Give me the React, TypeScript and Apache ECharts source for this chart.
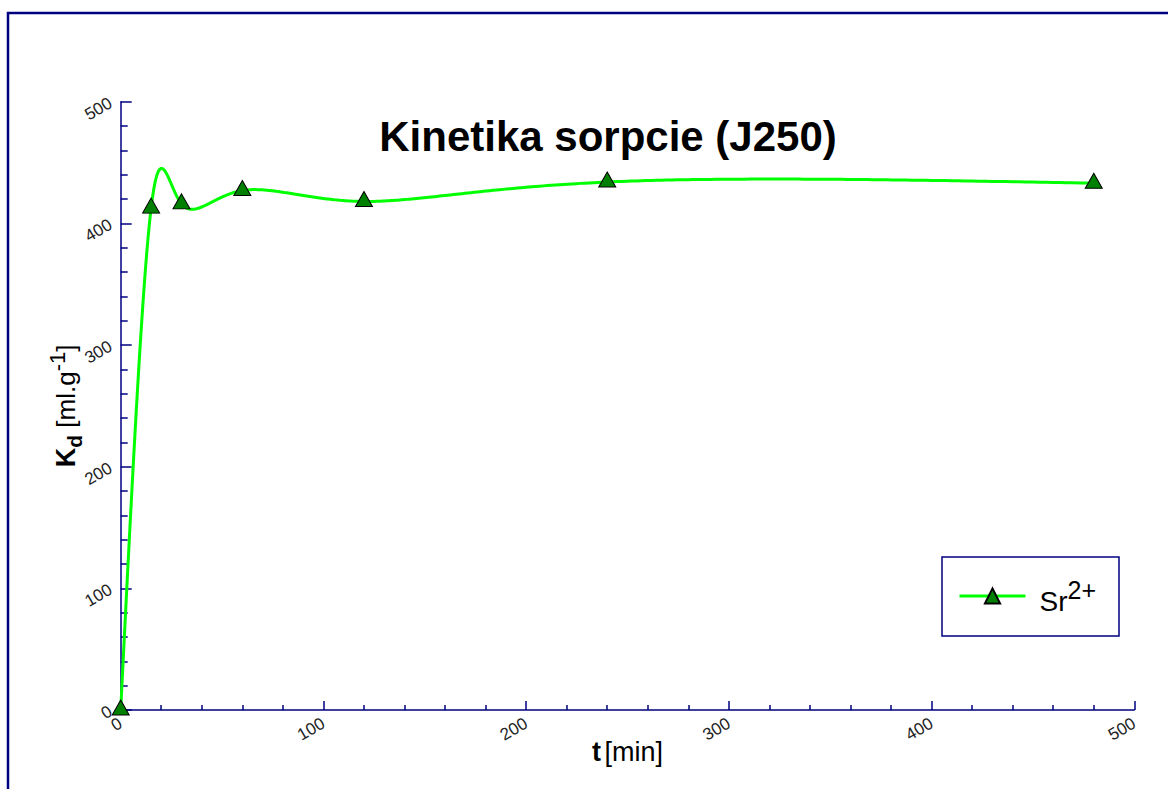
import React, { useEffect, useRef } from 'react';
import * as echarts from 'echarts';

const timeMin = [0, 15, 30, 60, 120, 240, 480];
const kdValues = [0, 412.5, 416, 427, 418, 434, 433];
const seriesName = 'Sr2+';
const titleText = 'Kinetika sorpcie (J250)';

const FONT = 'Arial, "Liberation Sans", Helvetica, sans-serif';
const NAVY = '#000080';

// natural cubic spline of ys over knots ts; returns evaluator
function naturalSpline(ts: number[], ys: number[]) {
  const n = ts.length;
  const h: number[] = [];
  for (let i = 0; i < n - 1; i++) h.push(ts[i + 1] - ts[i]);
  const a: number[] = new Array(n).fill(0);
  const b: number[] = new Array(n).fill(1);
  const c: number[] = new Array(n).fill(0);
  const d: number[] = new Array(n).fill(0);
  for (let i = 1; i < n - 1; i++) {
    a[i] = h[i - 1];
    b[i] = 2 * (h[i - 1] + h[i]);
    c[i] = h[i];
    d[i] = 6 * ((ys[i + 1] - ys[i]) / h[i] - (ys[i] - ys[i - 1]) / h[i - 1]);
  }
  const cp = new Array(n).fill(0);
  const dp = new Array(n).fill(0);
  cp[0] = c[0] / b[0];
  dp[0] = d[0] / b[0];
  for (let i = 1; i < n; i++) {
    const m = b[i] - a[i] * cp[i - 1];
    cp[i] = c[i] / m;
    dp[i] = (d[i] - a[i] * dp[i - 1]) / m;
  }
  const M = new Array(n).fill(0);
  M[n - 1] = dp[n - 1];
  for (let i = n - 2; i >= 0; i--) M[i] = dp[i] - cp[i] * M[i + 1];
  return (i: number, t: number) => {
    const hi = h[i];
    const t1 = ts[i + 1] - t;
    const t2 = t - ts[i];
    return (
      (M[i] * t1 * t1 * t1) / (6 * hi) +
      (M[i + 1] * t2 * t2 * t2) / (6 * hi) +
      (ys[i] / hi - (M[i] * hi) / 6) * t1 +
      (ys[i + 1] / hi - (M[i + 1] * hi) / 6) * t2
    );
  };
}

export default function App() {
  const ref = useRef<HTMLDivElement>(null);
  useEffect(() => {
    if (!ref.current) return;
    const chart = echarts.init(ref.current, null, { renderer: 'svg' });
    const option: any = {
      animation: false,
      backgroundColor: '#ffffff',
      textStyle: { fontFamily: FONT },
      grid: { left: 120.7, top: 101.7, right: 33.7, bottom: 79, containLabel: false },
      graphic: [
        {
          type: 'rect',
          shape: { x: 8, y: 13, width: 1300, height: 900 },
          style: { fill: 'none', stroke: NAVY, lineWidth: 2.5 },
          silent: true,
        },
        {
          type: 'text',
          x: 608,
          y: 136,
          style: {
            text: titleText,
            font: 'bold 42px ' + FONT,
            fill: '#000',
            textAlign: 'center',
            textVerticalAlign: 'middle',
          },
        },
        {
          type: 'rect',
          shape: { x: 942, y: 557, width: 177, height: 79 },
          style: { fill: 'none', stroke: NAVY, lineWidth: 1.5 },
          silent: true,
        },
      ],
      legend: {
        data: [{ name: seriesName }],
        left: 958,
        top: 577,
        itemWidth: 66,
        itemHeight: 19,
        padding: 0,
        formatter: () => '{a|Sr}{b|2+}',
        lineStyle: { color: '#00ff00', width: 3, opacity: 1, type: 'solid' },
        textStyle: {
          padding: [0, 0, 0, 9],
          rich: {
            a: { fontSize: 28, fontFamily: FONT, color: '#000', lineHeight: 38, verticalAlign: 'bottom' },
            b: { fontSize: 25, fontFamily: FONT, color: '#000', lineHeight: 38, verticalAlign: 'top' },
          },
        },
      },
      xAxis: {
        type: 'value',
        min: 0,
        max: 500,
        interval: 100,
        name: '{b|t} {r|[min]}',
        nameLocation: 'middle',
        nameGap: 28,
        nameMoveOverlap: false,
        nameTextStyle: {
          rich: {
            b: { fontSize: 27, fontWeight: 'bold', fontFamily: FONT, color: '#000' },
            r: { fontSize: 27, fontFamily: FONT, color: '#000' },
          },
        },
        axisLine: { show: true, lineStyle: { color: NAVY, width: 1.5 } },
        axisTick: { show: true, inside: true, length: 9, lineStyle: { color: NAVY, width: 1.5 } },
        minorTick: { show: true, splitNumber: 5, length: 5, lineStyle: { color: NAVY, width: 1.5 } },
        splitLine: { show: false },
        axisLabel: { rotate: 30, fontSize: 17, color: '#222', margin: 12, fontFamily: FONT },
      },
      yAxis: {
        type: 'value',
        min: 0,
        max: 500,
        interval: 100,
        name: '{k|K}{d|d}{r| [ml.g}{s|-1}{r|]}',
        nameLocation: 'middle',
        nameRotate: 90,
        nameGap: 36,
        nameMoveOverlap: false,
        nameTextStyle: {
          rich: {
            k: { fontSize: 27, fontWeight: 'bold', fontFamily: FONT, color: '#000', lineHeight: 38, verticalAlign: 'middle' },
            d: { fontSize: 21, fontWeight: 'bold', fontFamily: FONT, color: '#000', lineHeight: 38, verticalAlign: 'bottom' },
            r: { fontSize: 26, fontFamily: FONT, color: '#000', lineHeight: 38, verticalAlign: 'middle' },
            s: { fontSize: 22, fontFamily: FONT, color: '#000', lineHeight: 38, verticalAlign: 'top' },
          },
        },
        axisLine: { show: true, lineStyle: { color: NAVY, width: 1.5 } },
        axisTick: { show: true, inside: true, length: 11, lineStyle: { color: NAVY, width: 1.5 } },
        minorTick: { show: true, splitNumber: 5, length: 7, lineStyle: { color: NAVY, width: 1.5 } },
        splitLine: { show: false },
        axisLabel: { rotate: 30, fontSize: 17, color: '#222', margin: 10, fontFamily: FONT },
      },
      series: [
        {
          type: 'custom',
          name: 'curve',
          silent: true,
          z: 2,
          data: [[timeMin[0], kdValues[0]]],
          renderItem: (_params: any, api: any) => {
            // parametric natural cubic spline (uniform parameter) through the data points
            const P = timeMin.map((t, i) => api.coord([t, kdValues[i]]));
            const u = P.map((_p, i) => i);
            const fx = naturalSpline(u, P.map((p) => p[0]));
            const fy = naturalSpline(u, P.map((p) => p[1]));
            const pts: number[][] = [];
            for (let i = 0; i < P.length - 1; i++) {
              const steps = 80;
              for (let k = 0; k <= steps; k++) {
                const t = i + k / steps;
                pts.push([fx(i, t), fy(i, t)]);
              }
            }
            return {
              type: 'polyline',
              shape: { points: pts },
              style: { stroke: '#00ff00', lineWidth: 3, fill: null },
            };
          },
        },
        {
          type: 'line',
          name: seriesName,
          z: 3,
          clip: false,
          data: timeMin.map((t, i) => [t, kdValues[i]]),
          symbol: 'triangle',
          symbolSize: [17, 15],
          symbolOffset: [0, -2.5],
          showSymbol: true,
          itemStyle: { color: '#008000', borderColor: '#000000', borderWidth: 1 },
          lineStyle: { opacity: 0, width: 0 },
          emphasis: { disabled: true },
        },
      ],
    };
    chart.setOption(option);
    return () => chart.dispose();
  }, []);
  return (
    <div
      ref={ref}
      style={{ position: 'absolute', left: 0, top: 0, width: 1168, height: 789 }}
    />
  );
}
